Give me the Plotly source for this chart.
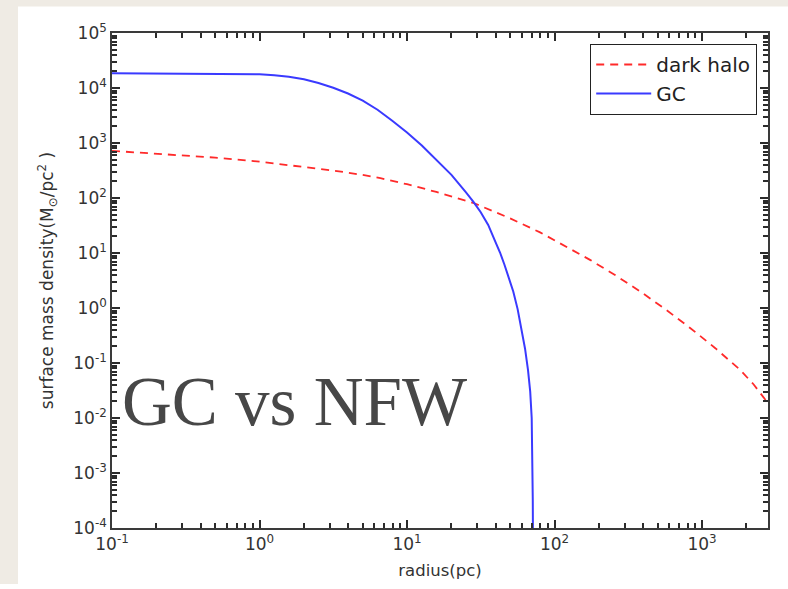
import plotly.graph_objects as go

# ---- data ----
gc_r = [0.1, 0.251, 0.501, 0.794, 1, 1.26, 1.58, 2.0, 2.51, 3.16, 3.98, 5.01, 6.31, 7.94, 10, 12.6, 15.8,
        20.0, 25.1, 28.2, 31.6, 35.5, 39.8, 42.7, 45.7, 49.0, 52.5, 56.2, 60.3, 63.1, 66.1, 68.4, 70.0,
        70.8, 71.2, 71.45]
gc_sigma = [18500, 18400, 18200, 17900, 17700, 17100, 16000, 14450, 12360, 10100, 7940, 5890, 4030, 2540,
            1550, 902, 501, 263, 126, 85.1, 55.0, 32.4, 15.8, 10.2, 6.17, 3.55, 2.0, 0.955, 0.380, 0.182,
            0.0741, 0.0302, 0.0100, 0.0020, 0.000316, 0.00005]

halo_r = [0.1, 0.2, 0.316, 0.5, 1, 2, 3.16, 5, 6.6, 10, 15.8, 28.8, 50, 79.8, 117, 174, 257, 380, 562,
          830, 1230, 1811, 2239, 2742, 2800]
halo_sigma = [720, 646, 596, 543, 457, 372, 316, 263, 229, 178, 129, 79.4, 42.7, 23.7, 13.5, 7.5, 3.98,
              2.01, 0.955, 0.434, 0.186, 0.075, 0.0407, 0.0204, 0.0186]

x_major = [0.1, 1, 10, 100, 1000]
x_major_text = ["10<sup>-1</sup>", "10<sup>0</sup>", "10<sup>1</sup>", "10<sup>2</sup>", "10<sup>3</sup>"]
y_major = [1e-4, 1e-3, 1e-2, 1e-1, 1, 10, 100, 1000, 1e4, 1e5]
y_major_text = ["10<sup>-4</sup>", "10<sup>-3</sup>", "10<sup>-2</sup>", "10<sup>-1</sup>", "10<sup>0</sup>",
                "10<sup>1</sup>", "10<sup>2</sup>", "10<sup>3</sup>", "10<sup>4</sup>", "10<sup>5</sup>"]

x_title = "radius(pc)"
y_title = "surface mass density(M<sub>⊙</sub>/pc<sup>2</sup> )"
overlay_title = "GC vs NFW"

W, H = 788, 589
L, R, T, B = 112, 20, 33, 52
pw, ph = W - L - R, H - T - B
X_RANGE = [-1, 3.447]
Y_RANGE = [-4, 5]


def px(x):
    return (x - L) / pw


def py(y):
    return (H - B - y) / ph


def minors(decades):
    out = []
    for m in decades:
        out += [m * k for k in range(2, 10)]
    return out


x_minor = minors(x_major)
y_minor = minors(y_major[:-1])

fig = go.Figure()
fig.add_trace(go.Scatter(x=halo_r, y=halo_sigma, mode="lines", name="dark halo",
                         line=dict(color="#ff2a2a", width=1.8, dash="8px,6px")))
fig.add_trace(go.Scatter(x=gc_r, y=gc_sigma, mode="lines", name="GC",
                         line=dict(color="#3a3aff", width=2)))
# carrier trace for the overlay axes that draw the minor ticks
fig.add_trace(go.Scatter(x=[1], y=[1], xaxis="x2", yaxis="y2", mode="markers",
                         marker=dict(opacity=0), showlegend=False, hoverinfo="skip"))

TICK_COLOR = "#2b2b2b"
axis_common = dict(
    type="log", zeroline=False,
    showline=True, linecolor="#3a3a3a", linewidth=1.6, mirror="allticks",
    ticks="inside", ticklen=8, tickcolor=TICK_COLOR, tickwidth=2,
    tickmode="array",
    tickfont=dict(family="DejaVu Sans", size=17, color="#333"),
)
minor_common = dict(
    type="log", zeroline=False, showline=False, mirror="allticks",
    ticks="inside", ticklen=5, tickcolor=TICK_COLOR, tickwidth=1.5,
    tickmode="array", showticklabels=False,
)

fig.update_layout(
    xaxis=dict(range=X_RANGE, tickvals=x_major, ticktext=x_major_text, showgrid=False,
               title=dict(text=x_title, font=dict(family="DejaVu Sans", size=16.5, color="#333"), standoff=11),
               **axis_common),
    yaxis=dict(range=Y_RANGE, tickvals=y_major, ticktext=y_major_text, showgrid=False,
               title=dict(text=y_title, font=dict(family="DejaVu Sans", size=17, color="#333"), standoff=15),
               **axis_common),
    xaxis2=dict(range=X_RANGE, tickvals=x_minor, overlaying="x", anchor="y", side="bottom",
                showgrid=False, **minor_common),
    yaxis2=dict(range=Y_RANGE, tickvals=y_minor, overlaying="y", anchor="x", side="left",
                showgrid=False, **minor_common),
)

# beige slide border (top and left), drawn outside the plot area only
for (a, b, c, d) in [(-5, W + 5, -5, 6), (-5, 18, -5, H + 5)]:
    fig.add_shape(type="rect", xref="paper", yref="paper", x0=px(a), x1=px(b), y0=py(d), y1=py(c),
                  fillcolor="#efebe4", line=dict(width=0), layer="above")

fig.add_annotation(text=overlay_title, xref="paper", yref="paper", x=px(120), y=py(409),
                   xanchor="left", yanchor="middle", showarrow=False,
                   font=dict(family="Liberation Serif", size=69, color="#474747"))

fig.update_layout(
    width=W, height=H,
    margin=dict(l=L, r=R, t=T, b=B),
    paper_bgcolor="white", plot_bgcolor="white",
    showlegend=True,
    legend=dict(x=px(757), y=py(44), xanchor="right", yanchor="top",
                bgcolor="white", bordercolor="#222", borderwidth=1.2,
                font=dict(family="DejaVu Sans", size=20, color="#222"),
                itemwidth=55, tracegroupgap=0),
)

fig.write_html("out.html")
